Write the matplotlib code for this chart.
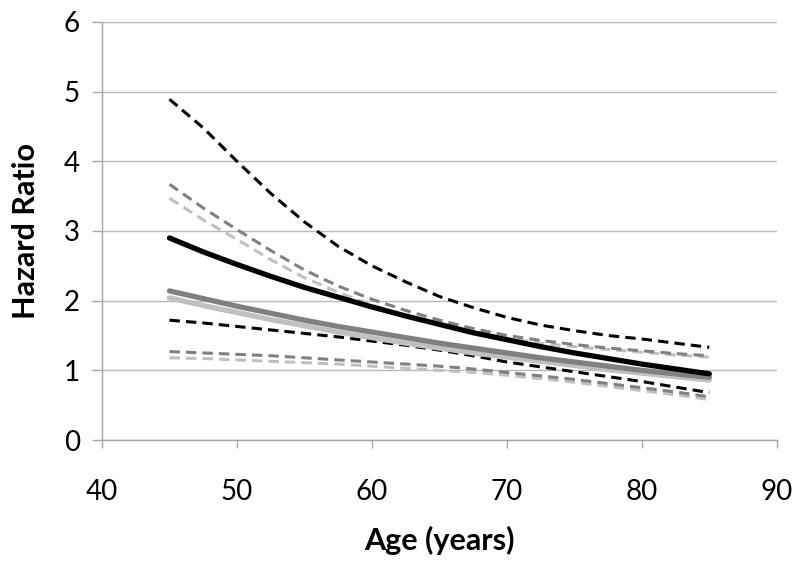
import matplotlib
matplotlib.use("Agg")
import matplotlib.pyplot as plt

plt.rcParams['font.family'] = ['Lato', 'DejaVu Sans']

age = [45, 47.5, 50, 52.5, 55, 57.5, 60, 62.5, 65, 67.5, 70, 72.5, 75, 77.5, 80, 82.5, 85]

black_est = [2.90, 2.70, 2.52, 2.35, 2.19, 2.05, 1.91, 1.78, 1.66, 1.54, 1.44, 1.34, 1.25, 1.17, 1.09, 1.02, 0.95]
black_hi = [4.89, 4.48, 4.00, 3.54, 3.13, 2.78, 2.50, 2.27, 2.06, 1.90, 1.76, 1.65, 1.57, 1.50, 1.45, 1.39, 1.33]
black_lo = [1.72, 1.68, 1.63, 1.58, 1.53, 1.48, 1.42, 1.36, 1.29, 1.21, 1.12, 1.05, 0.98, 0.91, 0.84, 0.76, 0.68]

dgray_est = [2.14, 2.03, 1.92, 1.82, 1.72, 1.63, 1.55, 1.47, 1.39, 1.32, 1.25, 1.18, 1.12, 1.06, 1.00, 0.95, 0.90]
dgray_hi = [3.67, 3.33, 3.02, 2.72, 2.44, 2.21, 2.02, 1.86, 1.72, 1.60, 1.50, 1.43, 1.37, 1.32, 1.28, 1.24, 1.21]
dgray_lo = [1.27, 1.25, 1.23, 1.21, 1.18, 1.15, 1.12, 1.09, 1.06, 1.02, 0.97, 0.92, 0.87, 0.81, 0.75, 0.69, 0.62]

lgray_est = [2.04, 1.93, 1.83, 1.73, 1.64, 1.55, 1.47, 1.39, 1.32, 1.25, 1.19, 1.13, 1.07, 1.01, 0.96, 0.91, 0.86]
lgray_hi = [3.47, 3.16, 2.88, 2.59, 2.33, 2.12, 1.94, 1.79, 1.66, 1.55, 1.46, 1.39, 1.34, 1.30, 1.26, 1.22, 1.19]
lgray_lo = [1.18, 1.17, 1.15, 1.13, 1.11, 1.09, 1.06, 1.03, 1.00, 0.97, 0.93, 0.88, 0.83, 0.77, 0.71, 0.65, 0.58]

x_ticks = [40, 50, 60, 70, 80, 90]
y_ticks = [0, 1, 2, 3, 4, 5, 6]

fig = plt.figure(figsize=(8, 5.62), dpi=100)
ax = fig.add_axes([0.1275, 0.217, 0.8435, 0.744])

BLACK = '#000000'
DGRAY = '#808080'
LGRAY = '#c0c0c0'

dash_kw = dict(lw=2.2, linestyle=(0, (3.4, 2.0)), dash_capstyle='butt', dash_joinstyle='round')
solid_kw = dict(lw=3.8, solid_capstyle='round', solid_joinstyle='round')

for lo, hi, c in [(lgray_lo, lgray_hi, LGRAY), (dgray_lo, dgray_hi, DGRAY), (black_lo, black_hi, BLACK)]:
    ax.plot(age, hi, color=c, **dash_kw, zorder=3)
    ax.plot(age, lo, color=c, **dash_kw, zorder=3)
ax.plot(age, lgray_est, color=LGRAY, **solid_kw, zorder=4)
ax.plot(age, dgray_est, color=DGRAY, **solid_kw, zorder=4)
ax.plot(age, black_est, color=BLACK, **solid_kw, zorder=5)

ax.set_xlim(40, 90)
ax.set_ylim(0, 6)
ax.set_xticks(x_ticks)
ax.set_yticks(y_ticks)
ax.yaxis.grid(True, color='#b8b8b8', lw=1.0)
ax.set_axisbelow(True)

for s in ['top', 'right']:
    ax.spines[s].set_visible(False)
for s in ['left', 'bottom']:
    ax.spines[s].set_color('#a6a6a6')
    ax.spines[s].set_linewidth(1.0)

ax.tick_params(axis='x', direction='out', length=6, width=1.0, color='#a6a6a6', pad=22, labelsize=20)
ax.tick_params(axis='y', direction='out', length=7, width=1.0, color='#a6a6a6', pad=9, labelsize=20)

ax.set_xlabel('Age (years)', fontsize=22, fontweight='bold', labelpad=15)
ax.set_ylabel('Hazard Ratio', fontsize=22, fontweight='bold', labelpad=17)

fig.savefig('out.png', dpi=100)
